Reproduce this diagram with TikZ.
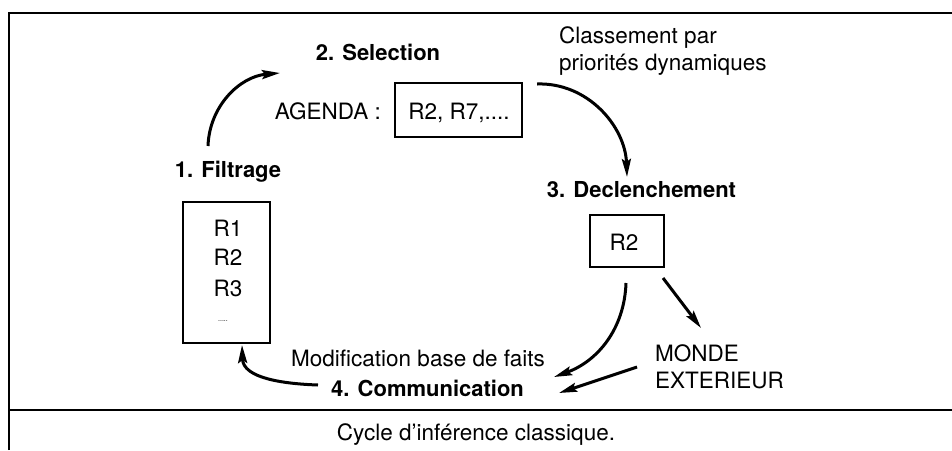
\documentclass[tikz,border=0pt]{standalone}
\usepackage{fontspec}
\setmainfont{TeX Gyre Heros}
\usetikzlibrary{arrows.meta}
\begin{document}
\begin{tikzpicture}[x=1pt,y=-1pt,
  lbl/.style={font=\fontsize{22.5}{27.5}\selectfont, inner sep=0pt},
  ttl/.style={font=\fontsize{22}{26}\selectfont\bfseries, inner sep=0pt},
  boxed/.style={draw, line width=2.4pt, inner sep=0pt},
  arr/.style={line width=3pt, -{Stealth[length=18pt,width=9pt,inset=3pt]}},
  frame/.style={line width=2.8pt}]
\useasboundingbox (0,0) rectangle (952,450);

% outer frame and caption separator
\draw[frame] (9,450) -- (9,13) -- (952,13);
\draw[frame] (9,410) -- (952,410);

% step titles
\node[ttl, anchor=base] (sel) at (378,60) {2. Selection};
\node[ttl, anchor=base] (filt) at (228,177) {1. Filtrage};
\node[ttl, anchor=base] (decl) at (641.5,197) {3. Declenchement};
\node[ttl, anchor=base west] (comm) at (331,396) {4. Communication};

% agenda
\node[boxed, minimum width=127pt, minimum height=54pt] (agenda) at (458.5,110) {};
\node[lbl, anchor=base] (agtxt) at (459,119) {R2, R7,....};
\node[lbl, anchor=base east] (aglbl) at (381,119) {AGENDA :};

% rule base
\node[boxed, minimum width=87pt, minimum height=141pt] (base) at (226.5,272.5) {};
\node[lbl, anchor=base] (r1) at (228,236) {R1};
\node[lbl, anchor=base] (r2) at (228,265) {R2};
\node[lbl, anchor=base] (r3) at (228,296) {R3};
\node[font=\fontsize{7}{8}\selectfont, inner sep=0pt] (rdots) at (223,321) {.....};

% fired rule
\node[boxed, minimum width=74pt, minimum height=52pt] (fired) at (627,241) {};
\node[lbl, anchor=base] (firedtxt) at (624,250) {R2};

% other labels (two-line nodes: base is the baseline of the last line)
\node[lbl, align=left, anchor=base west] (cls) at (559,70.5) {Classement par\\priorités dynamiques};
\node[lbl, align=left, anchor=base west] (monde) at (655,388.5) {MONDE\\EXTERIEUR};
\node[lbl, anchor=base west] (modif) at (291,366) {Modification base de faits};
\node[lbl, anchor=base] (caption) at (476,440) {Cycle d\symbol{39}inférence classique.};

% connector end points
\coordinate (a1s) at (208,146);
\coordinate (a1e) at (280,73);
\coordinate (a2s) at (537,84);
\coordinate (a2e) at (627,177);
\coordinate (a3s) at (626,283);
\coordinate (a3e) at (554,377);
\coordinate (a4s) at (663,278);
\coordinate (a4e) at (701,328);
\coordinate (a5s) at (637,367);
\coordinate (a5e) at (559,393);
\coordinate (a6s) at (318,385);
\coordinate (a6e) at (242,345);

% cycle arrows
\draw[arr] (a1s) to[out=88,in=185] (a1e);
\draw[arr] (a2s) to[out=2,in=92] (a2e);
\draw[arr] (a3s) to[out=-92,in=20] (a3e);
\draw[arr] (a4s) -- (a4e);
\draw[arr] (a5s) -- (a5e);
\draw[arr] (a6s) to[out=178,in=-88] (a6e);
\end{tikzpicture}
\end{document}
